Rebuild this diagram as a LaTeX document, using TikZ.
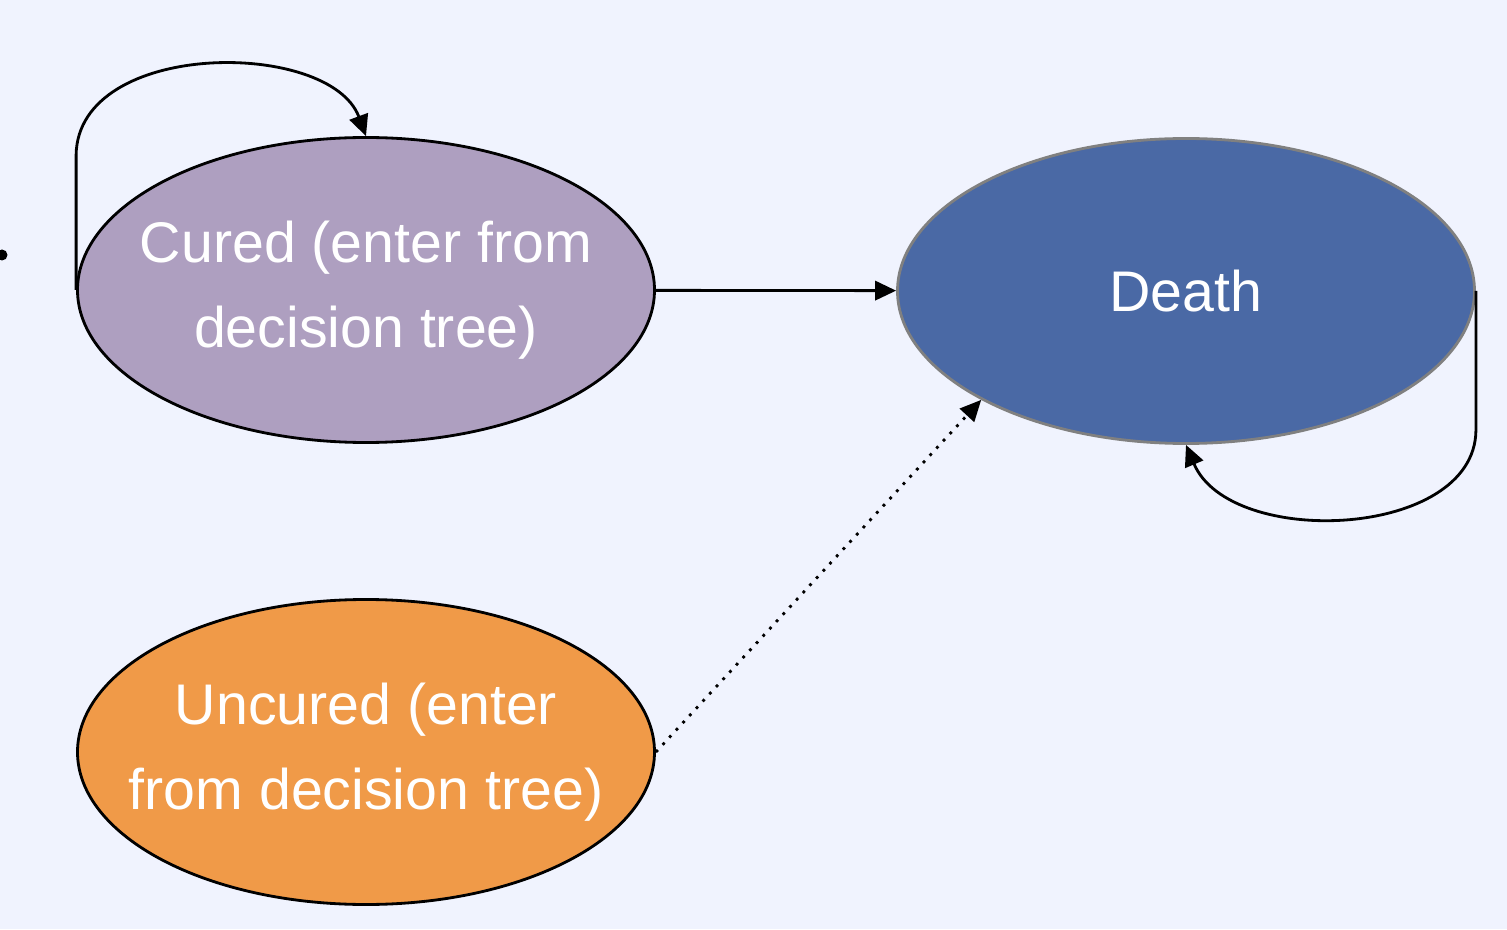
\documentclass[tikz,border=0pt]{standalone}
\usepackage{fontspec}
\setmainfont{Liberation Sans}
\usetikzlibrary{arrows.meta,shapes.geometric}

\definecolor{bgblue}{HTML}{F0F3FE}
\definecolor{curedfill}{HTML}{AE9FC0}
\definecolor{deathfill}{HTML}{4A69A5}
\definecolor{uncuredfill}{HTML}{F09A48}

\tikzset{
  state/.style={ellipse, minimum width=5.77cm, minimum height=3.05cm,
    inner xsep=-0.5cm, inner ysep=0pt,
    line width=0.8pt, text=white, align=center,
    font=\fontsize{16.3}{24}\selectfont},
  trans/.style={line width=0.8pt, -{Triangle[length=6pt,width=5.5pt]}}
}

\begin{document}
\begin{tikzpicture}

      \fill[bgblue] (0,0) rectangle (15.07,9.29);
      \useasboundingbox (0,0) rectangle (15.07,9.29);

      \begin{scope}[every node/.style={state}]
        \node[draw=black, fill=curedfill] (cured) at (3.66,6.39) {Cured (enter from\\decision tree)};
        \node[draw=gray, fill=deathfill] (death) at (11.86,6.38) {Death};
        \node[draw=black, fill=uncuredfill] (uncured) at (3.66,1.77) {Uncured (enter\\from decision tree)};
      \end{scope}

      \node[circle, fill=black, inner sep=0pt, minimum size=0.11cm] (bullet) at (0.02,6.74) {};

      \begin{scope}[every path/.style={trans}]
        \path (cured) edge (death);
        \path (uncured.east) edge[dotted] (death.208);
        \draw (cured.west) -- ++(0,1.35) .. controls (0.78,8.9) and (3.3,8.9) .. (cured.north);
        \draw (death.east) -- ++(0,-1.4) .. controls (14.74,3.9) and (12.3,3.8) .. (death.south);
      \end{scope}

    \end{tikzpicture}
\end{document}
